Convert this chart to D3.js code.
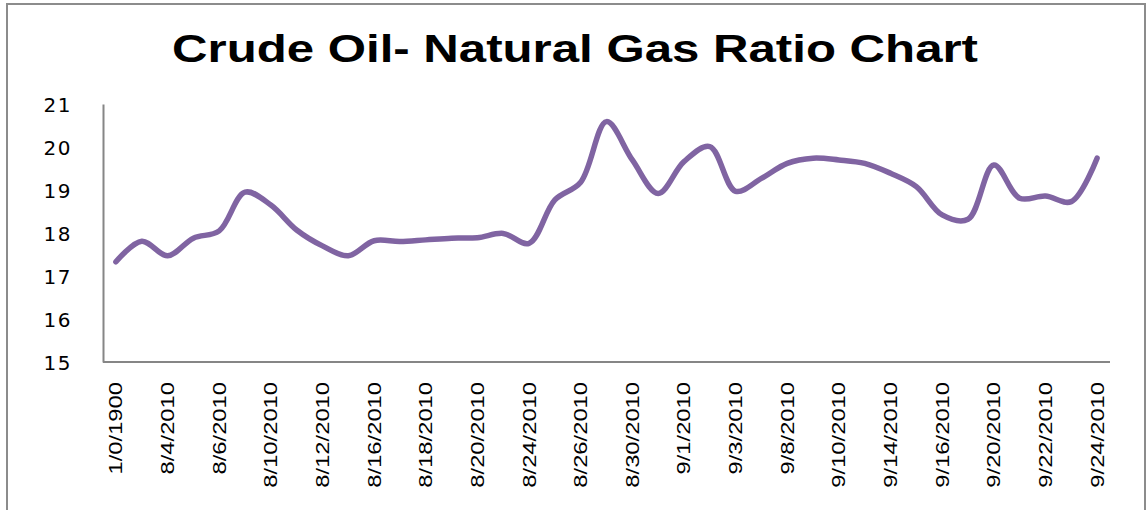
<!DOCTYPE html>
<html><head><meta charset="utf-8">
<script src="https://cdn.jsdelivr.net/npm/d3@7"></script>
<style>body{margin:0;background:#fff}svg{display:block}</style>
</head><body>
<svg id="c" width="1148" height="510"></svg>
<script>
const categories = ["1/0/1900","8/3/2010","8/4/2010","8/5/2010","8/6/2010","8/9/2010","8/10/2010","8/11/2010","8/12/2010","8/13/2010","8/16/2010","8/17/2010","8/18/2010","8/19/2010","8/20/2010","8/23/2010","8/24/2010","8/25/2010","8/26/2010","8/27/2010","8/30/2010","8/31/2010","9/1/2010","9/2/2010","9/3/2010","9/7/2010","9/8/2010","9/9/2010","9/10/2010","9/13/2010","9/14/2010","9/15/2010","9/16/2010","9/17/2010","9/20/2010","9/21/2010","9/22/2010","9/23/2010","9/24/2010"];
const ratio = [17.33,17.81,17.47,17.88,18.05,18.95,18.65,18.07,17.70,17.47,17.82,17.80,17.84,17.88,17.89,17.99,17.76,18.77,19.18,20.59,19.70,18.92,19.66,20.01,18.97,19.27,19.62,19.74,19.70,19.62,19.39,19.08,18.42,18.32,19.58,18.81,18.86,18.73,19.74];
const yTicks = [15,16,17,18,19,20,21];
const title = "Crude Oil- Natural Gas Ratio Chart";

const svg = d3.select("#c");
const L = 103, R = 1110, T = 104, B = 362;

svg.append("rect").attr("x",7).attr("y",4).attr("width",1138).attr("height",530)
  .attr("fill","none").attr("stroke","#8c8c8c").attr("stroke-width",2);

const x = d3.scaleBand().domain(categories).range([L,R]);
const y = d3.scaleLinear().domain([15,21]).range([B,T]);

// title
const tt = svg.append("text").attr("x",575).attr("y",62).attr("text-anchor","middle")
  .attr("font-family","Liberation Sans, Arial, sans-serif").attr("font-weight","bold")
  .attr("font-size",38).attr("fill","#000").text(title);
tt.attr("textLength",806).attr("lengthAdjust","spacingAndGlyphs");

// y axis
const yAxis = d3.axisLeft(y).tickValues(yTicks).tickSize(0).tickPadding(31).tickFormat(d3.format("d"));
const gy = svg.append("g").attr("transform",`translate(${L},0)`).call(yAxis);
gy.select(".domain").attr("stroke","#868686").attr("stroke-width",2);
gy.selectAll("text").attr("font-family","DejaVu Sans, sans-serif").attr("font-size",20)
  .attr("letter-spacing",1.5).attr("fill","#000").attr("dy","0.36em");

// x axis
const shown = categories.filter((d,i)=>i%2===0);
const xAxis = d3.axisBottom(x).tickValues(shown).tickSize(0).tickPadding(0);
const gx = svg.append("g").attr("transform",`translate(0,${B})`).call(xAxis);
gx.select(".domain").attr("stroke","#868686").attr("stroke-width",2).attr("d",`M${L},0H${R}`);
gx.selectAll("text")
  .attr("font-family","Liberation Sans, Arial, sans-serif").attr("font-size",19).attr("fill","#000")
  .attr("text-anchor","end").attr("dy",null).attr("y",0)
  .attr("transform","translate(0,20) rotate(-90)")
  .attr("dominant-baseline","central")
  .each(function(){ const n=this.getComputedTextLength(); d3.select(this).attr("textLength",n*1.25).attr("lengthAdjust","spacingAndGlyphs"); });

// line
const line = d3.line().x((d,i)=>x(categories[i])+x.bandwidth()/2).y(d=>y(d))
  .curve(d3.curveCatmullRom.alpha(0.5));
svg.append("path").datum(ratio).attr("d",line).attr("fill","none")
  .attr("stroke","#8064A2").attr("stroke-width",5.5).attr("stroke-linecap","round").attr("stroke-linejoin","round");
</script>
</body></html>
